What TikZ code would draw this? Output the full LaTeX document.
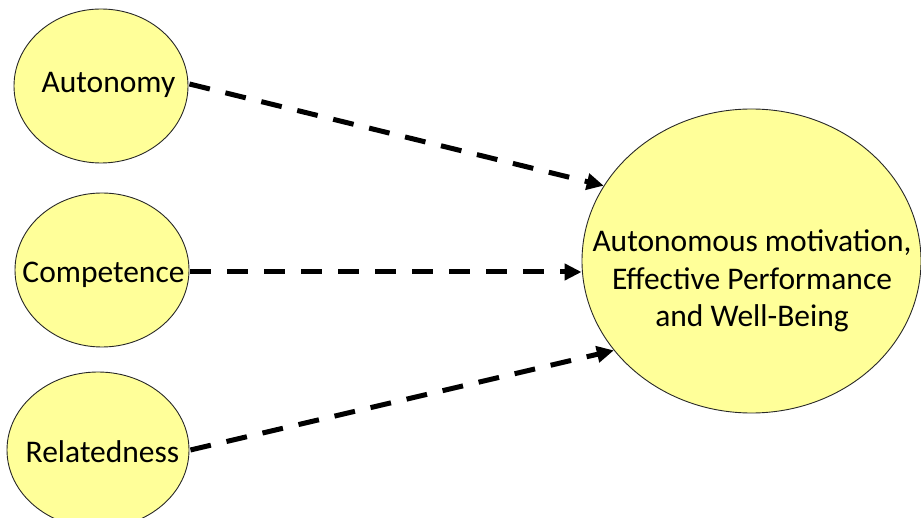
\documentclass[tikz,border=0pt]{standalone}
\usepackage{fontspec}
\setmainfont{Carlito}
\usetikzlibrary{shapes.geometric,arrows.meta}
\definecolor{ellfill}{RGB}{255,255,153}
\definecolor{ellline}{RGB}{40,40,40}
\tikzset{
  bubble/.style={ellipse, draw=ellline, line width=0.9pt, fill=ellfill, inner sep=0pt},
  lbl/.style={font=\fontsize{31.5}{37.5}\selectfont, text=black, inner sep=0pt, align=center},
  conn/.style={line width=5pt, dash pattern=on 21pt off 16pt, draw=black,
    -{Triangle[length=17pt,width=16pt]}}
}
\begin{document}
\begin{tikzpicture}[x=1pt,y=-1pt]
\useasboundingbox (0,0) rectangle (921,518);
\node[bubble, minimum width=174pt, minimum height=154pt] (a) at (101,86) {};
\node[bubble, minimum width=174pt, minimum height=154pt] (c) at (102,270) {};
\node[bubble, minimum width=182pt, minimum height=156pt] (r) at (98,450) {};
\node[bubble, minimum width=339pt, minimum height=304pt] (t) at (751.5,261) {};
\node[lbl] (alab) at (108.5,85) {Autonomy};
\node[lbl] (clab) at (103.5,275) {Competence};
\node[lbl] (rlab) at (102.5,452) {Relatedness};
\node[lbl] (tlab) at (752,281) {Autonomous motivation,\\Effective Performance\\and Well-Being};
\draw[conn] ([xshift=1pt,yshift=2pt]a.east) -- (t.153);
\draw[conn] ([xshift=1pt,yshift=-2pt]c.east) -- ([yshift=-11pt]t.west);
\draw[conn] ([xshift=1pt]r.east) -- (t.213.5);
\end{tikzpicture}
\end{document}
